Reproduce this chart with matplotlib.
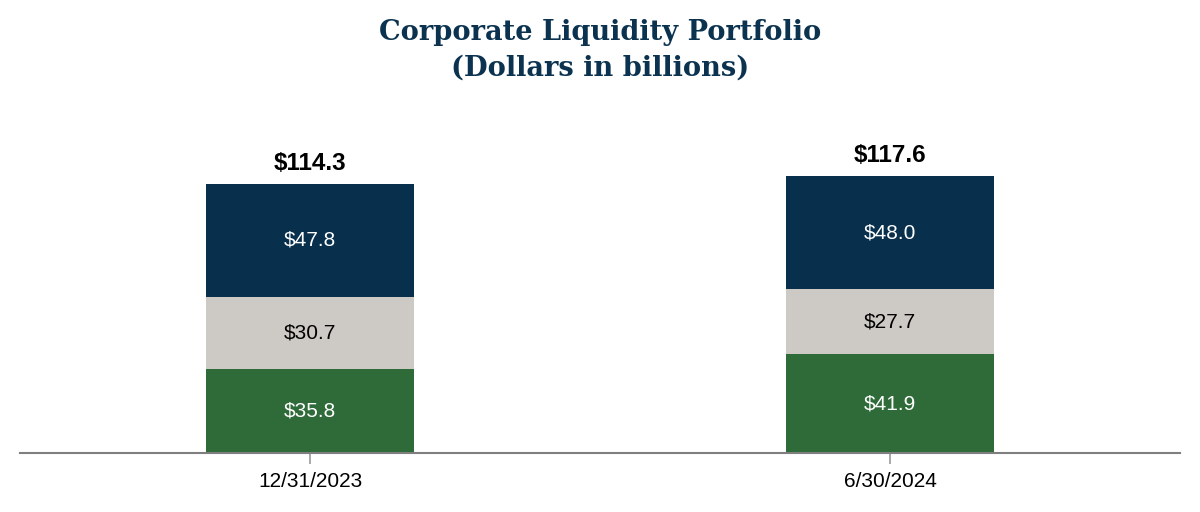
import numpy as np
import matplotlib
matplotlib.use("Agg")
import matplotlib.pyplot as plt

plt.rcParams['font.family'] = ['Liberation Sans', 'DejaVu Sans']

dates = ["12/31/2023", "6/30/2024"]
bottom_vals = [35.8, 41.9]   # green
middle_vals = [30.7, 27.7]   # gray
top_vals = [47.8, 48.0]      # navy
totals = [114.3, 117.6]

navy = "#08304d"
gray = "#cdc9c4"
green = "#2e6b39"

fig = plt.figure(figsize=(12, 5.12), dpi=100)
ax = fig.add_axes([20 / 1200, 59 / 512, 1160 / 1200, 353 / 512])

x = np.arange(len(dates))
w = 0.36
b = np.array(bottom_vals)
m = np.array(middle_vals)
t = np.array(top_vals)

ax.bar(x, b, w, color=green)
ax.bar(x, m, w, bottom=b, color=gray)
ax.bar(x, t, w, bottom=b + m, color=navy)

for i in range(len(x)):
    ax.text(x[i], b[i] / 2, f"${b[i]:.1f}", ha="center", va="center",
            color="white", fontsize=15)
    ax.text(x[i], b[i] + m[i] / 2, f"${m[i]:.1f}", ha="center", va="center",
            color="black", fontsize=15)
    ax.text(x[i], b[i] + m[i] + t[i] / 2, f"${t[i]:.1f}", ha="center",
            va="center", color="white", fontsize=15)
    ax.text(x[i], totals[i] + 4, f"${totals[i]:.1f}", ha="center",
            va="bottom", color="black", fontsize=17.5, fontweight="bold")

ax.set_xlim(-0.5, 1.5)
ax.set_ylim(0, 150)
ax.set_xticks(x)
ax.set_xticklabels(dates, fontsize=15)
ax.set_yticks([])
for s in ["top", "right", "left"]:
    ax.spines[s].set_visible(False)
ax.spines["bottom"].set_color("#7f7f7f")
ax.spines["bottom"].set_linewidth(1.5)
ax.tick_params(axis="x", length=8, width=1.2, color="#9a9a9a", pad=6)

title_font = ["DejaVu Serif", "Liberation Serif"]
fig.text(0.5, 1 - 32 / 512, "Corporate Liquidity Portfolio", ha="center",
         va="center", fontsize=19.6, fontweight="bold", color="#0b3350",
         family=title_font)
fig.text(0.5, 1 - 68 / 512, "(Dollars in billions)", ha="center",
         va="center", fontsize=19.6, fontweight="bold", color="#0b3350",
         family=title_font)

fig.savefig("out.png", dpi=100)
